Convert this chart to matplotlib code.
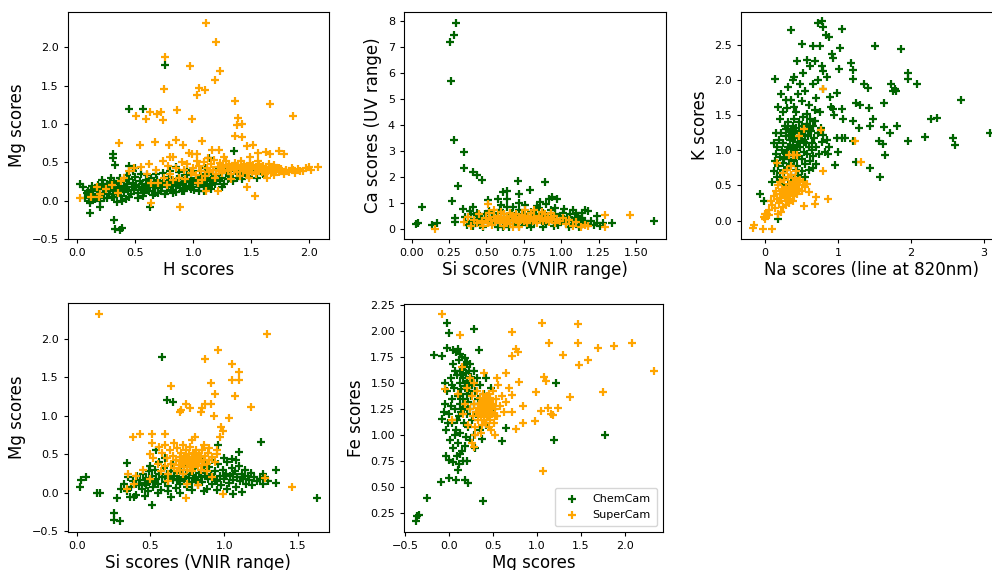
import numpy as np
import matplotlib
matplotlib.use("Agg")
import matplotlib.pyplot as plt

# colours for the two instruments
CC_COLOR = "darkgreen"
SC_COLOR = "orange"

# ---- panel 1: H scores vs Mg scores ----
h_mg_chemcam = [
    (0.76, 1.77), (0.45, 1.20), (0.57, 1.20), (1.35, 0.65), (0.31, 0.61), (0.31, 0.55),
    (0.33, 0.46), (0.02, 0.22), (1.14, 0.56), (0.11, -0.16), (0.32, -0.25), (0.33, -0.37),
    (0.39, -0.36), (0.37, -0.38), (0.63, -0.09), (1.09, 0.12), (0.11, -0.03), (0.20, -0.08),
    (0.08, 0.10), (0.10, 0.05), (0.12, 0.14), (0.14, 0.08), (0.15, 0.02), (0.17, 0.12),
    (0.18, 0.20), (0.19, 0.06), (0.20, 0.15), (0.21, 0.27), (0.22, 0.10), (0.23, 0.03),
    (0.24, 0.18), (0.25, 0.12), (0.26, 0.22), (0.27, 0.08), (0.28, 0.15), (0.29, 0.30),
    (0.30, 0.05), (0.30, 0.20), (0.31, 0.12), (0.32, 0.25), (0.33, 0.17), (0.34, -0.02),
    (0.34, 0.09), (0.35, 0.21), (0.36, 0.14), (0.37, 0.30), (0.38, 0.06), (0.38, 0.19),
    (0.40, 0.11), (0.40, 0.25), (0.41, 0.17), (0.42, 0.02), (0.43, 0.21), (0.44, 0.13),
    (0.45, 0.28), (0.46, 0.09), (0.47, 0.18), (0.48, 0.23), (0.49, 0.14), (0.50, 0.31),
    (0.51, 0.20), (0.52, 0.10), (0.53, 0.17), (0.54, 0.25), (0.55, 0.14), (0.56, 0.21),
    (0.57, 0.06), (0.58, 0.18), (0.59, 0.27), (0.60, 0.15), (0.61, 0.22), (0.62, 0.12),
    (0.63, 0.19), (0.64, 0.30), (0.65, 0.17), (0.66, 0.24), (0.67, 0.10), (0.68, 0.20),
    (0.69, 0.27), (0.70, 0.16), (0.71, 0.22), (0.72, 0.13), (0.73, 0.19), (0.74, 0.26),
    (0.75, 0.21), (0.76, 0.09), (0.77, 0.24), (0.78, 0.17), (0.79, 0.31), (0.80, 0.21),
    (0.81, 0.14), (0.82, 0.26), (0.83, 0.19), (0.84, 0.23), (0.85, 0.11), (0.86, 0.28),
    (0.87, 0.20), (0.88, 0.24), (0.89, 0.16), (0.90, 0.30), (0.91, 0.22), (0.92, 0.13),
    (0.93, 0.26), (0.94, 0.19), (0.95, 0.33), (0.96, 0.24), (0.97, 0.17), (0.98, 0.28),
    (0.99, 0.21), (1.00, 0.25), (1.01, 0.14), (1.02, 0.30), (1.03, 0.22), (1.04, 0.27),
    (1.05, 0.18), (1.06, 0.32), (1.07, 0.24), (1.08, 0.29), (1.09, 0.20), (1.10, 0.34),
    (1.11, 0.26), (1.12, 0.22), (1.13, 0.30), (1.14, 0.17), (1.15, 0.27), (1.16, 0.35),
    (1.17, 0.24), (1.18, 0.30), (1.19, 0.21), (1.20, 0.28), (1.22, 0.33), (1.23, 0.25),
    (1.25, 0.30), (1.27, 0.22), (1.28, 0.36), (1.30, 0.28), (1.32, 0.32), (1.34, 0.25),
    (1.36, 0.38), (1.38, 0.30), (1.40, 0.34), (1.42, 0.28), (1.45, 0.36), (1.48, 0.32),
    (1.52, 0.38), (0.05, 0.18), (0.07, 0.03), (0.09, 0.13), (0.11, 0.00), (0.13, 0.19),
    (0.16, 0.16), (0.20, 0.00), (0.22, 0.22), (0.26, 0.03), (0.28, 0.24), (0.32, 0.05),
    (0.36, 0.24), (0.39, 0.00), (0.43, 0.33), (0.45, 0.05), (0.48, 0.38), (0.52, 0.03),
    (0.55, 0.35), (0.58, 0.10), (0.60, 0.33), (0.65, 0.07), (0.68, 0.34), (0.70, 0.10),
    (0.74, 0.36), (0.77, 0.12), (0.80, 0.38), (0.83, 0.10), (0.88, 0.37), (0.90, 0.12),
    (0.95, 0.40), (0.98, 0.15), (1.00, 0.38), (1.05, 0.12), (1.10, 0.42), (1.15, 0.15),
    (1.20, 0.40), (1.25, 0.18), (1.30, 0.42), (0.45, 0.45), (0.50, 0.43), (0.85, 0.44),
    (1.38, 0.44), (1.42, 0.40), (1.55, 0.30), (1.60, 0.35),
    (0.35, 0.16), (0.42, 0.15), (0.50, 0.18), (0.57, 0.16), (0.62, 0.20), (0.70, 0.20),
    (0.78, 0.22), (0.85, 0.20), (0.92, 0.24), (1.00, 0.22), (1.08, 0.25), (1.16, 0.28),
]
h_mg_supercam = [
    (1.11, 2.32), (1.20, 2.07), (0.76, 1.87), (0.97, 1.75), (1.23, 1.69), (1.19, 1.57),
    (0.75, 1.46), (1.05, 1.47), (1.03, 1.38), (1.10, 1.44), (1.36, 1.30), (1.66, 1.26),
    (1.86, 1.10), (0.51, 1.10), (0.59, 1.07), (0.63, 1.15), (0.69, 1.13), (0.72, 1.15),
    (0.74, 1.05), (0.86, 1.18), (0.99, 1.07), (1.39, 1.08), (1.38, 0.98), (1.42, 1.00),
    (1.36, 0.84), (1.42, 0.83), (0.36, 0.75), (0.54, 0.72), (0.67, 0.76), (0.85, 0.79),
    (0.79, 0.72), (0.91, 0.73), (1.08, 0.78), (1.46, 0.71), (1.52, 0.73), (1.63, 0.63),
    (1.66, 0.61), (1.74, 0.65), (1.78, 0.61), (1.56, 0.62), (1.49, 0.57), (1.16, 0.66),
    (1.22, 0.66), (0.96, 0.62), (0.99, 0.61), (1.03, 0.61), (0.80, 0.57), (0.83, 0.57),
    (0.74, 0.51), (0.62, 0.47), (0.49, 0.42), (1.46, 0.18), (1.53, 0.06), (0.89, -0.08),
    (0.64, -0.03), (0.35, 0.10), (0.02, 0.03), (0.17, 0.17), (0.19, 0.05), (1.11, 0.12),
    (1.21, 0.13), (1.04, 0.23), (0.77, 0.20), (0.70, 0.23), (0.64, 0.23), (2.00, 0.44),
    (2.08, 0.44), (1.92, 0.38), (1.86, 0.40), (1.80, 0.38), (1.74, 0.42),
    (0.80, 0.35), (0.85, 0.42), (0.88, 0.30), (0.92, 0.40), (0.95, 0.47), (0.98, 0.36),
    (1.00, 0.43), (1.02, 0.33), (1.05, 0.45), (1.07, 0.38), (1.09, 0.50), (1.10, 0.32),
    (1.12, 0.42), (1.14, 0.37), (1.15, 0.47), (1.17, 0.40), (1.18, 0.53), (1.20, 0.35),
    (1.21, 0.44), (1.22, 0.39), (1.23, 0.49), (1.24, 0.42), (1.25, 0.36), (1.26, 0.46),
    (1.27, 0.40), (1.28, 0.51), (1.29, 0.44), (1.30, 0.38), (1.31, 0.47), (1.32, 0.42),
    (1.33, 0.35), (1.34, 0.45), (1.35, 0.40), (1.36, 0.49), (1.37, 0.43), (1.38, 0.37),
    (1.39, 0.46), (1.40, 0.41), (1.41, 0.52), (1.42, 0.44), (1.43, 0.38), (1.44, 0.47),
    (1.45, 0.42), (1.46, 0.36), (1.47, 0.45), (1.48, 0.40), (1.49, 0.49), (1.50, 0.43),
    (1.51, 0.37), (1.52, 0.46), (1.53, 0.41), (1.54, 0.35), (1.55, 0.44), (1.56, 0.39),
    (1.57, 0.48), (1.58, 0.42), (1.59, 0.37), (1.60, 0.45), (1.61, 0.40), (1.62, 0.34),
    (1.63, 0.44), (1.64, 0.39), (1.65, 0.47), (1.66, 0.41), (1.67, 0.36), (1.68, 0.44),
    (1.69, 0.40), (1.70, 0.46), (1.71, 0.38), (1.72, 0.43), (1.74, 0.37), (1.76, 0.41),
    (1.78, 0.35), (1.80, 0.40), (1.83, 0.37), (1.85, 0.42), (1.88, 0.36), (1.90, 0.41),
    (1.95, 0.38), (1.97, 0.43), (2.02, 0.40), (0.75, 0.30), (0.78, 0.45), (0.83, 0.27),
    (0.90, 0.50), (0.93, 0.28), (1.03, 0.52), (1.08, 0.27), (1.13, 0.55), (1.19, 0.30),
    (1.27, 0.57), (1.33, 0.28), (1.40, 0.32), (1.48, 0.30), (1.56, 0.52), (1.64, 0.30),
    (1.70, 0.33), (0.68, 0.40), (0.60, 0.35), (0.55, 0.44), (0.45, 0.38), (0.40, 0.30),
    (0.38, 0.25), (0.30, 0.20), (0.25, 0.15), (0.20, 0.08), (0.12, 0.05),
]

# ---- panel 2: Si scores (VNIR) vs Ca scores (UV) ----
si_ca_chemcam = [
    (0.296, 7.90), (0.283, 7.43), (0.26, 7.16), (0.265, 5.66), (0.283, 3.42), (0.35, 2.95),
    (0.35, 2.34), (0.41, 2.16), (0.44, 2.08), (0.47, 1.87), (0.31, 1.64), (0.27, 1.05),
    (0.07, 0.82), (0.04, 0.20), (0.03, 0.17), (0.14, 0.13), (0.17, 0.23), (0.71, 1.84),
    (0.89, 1.81), (0.72, 1.35), (0.79, 1.48), (0.61, 1.42), (0.64, 1.45), (0.64, 1.15),
    (0.58, 1.14), (0.51, 1.10), (0.92, 1.15), (0.97, 1.16), (0.94, 1.20), (0.72, 1.00),
    (0.86, 1.01), (1.62, 0.29), (1.34, 0.23), (1.16, 0.72), (1.18, 0.68), (1.10, 0.59),
    (1.24, 0.49), (0.345, 0.74), (0.39, 0.69), (0.41, 0.82), (0.29, 0.42), (0.29, 0.27),
    (0.61, 0.05),
    (0.36, 0.45), (0.38, 0.30), (0.40, 0.20), (0.40, 0.55), (0.42, 0.38), (0.43, 0.25),
    (0.44, 0.48), (0.45, 0.32), (0.46, 0.15), (0.47, 0.42), (0.48, 0.28), (0.49, 0.55),
    (0.50, 0.35), (0.51, 0.20), (0.52, 0.45), (0.53, 0.30), (0.54, 0.62), (0.55, 0.38),
    (0.56, 0.22), (0.57, 0.48), (0.58, 0.33), (0.59, 0.72), (0.60, 0.40), (0.61, 0.25),
    (0.62, 0.55), (0.63, 0.35), (0.64, 0.82), (0.65, 0.45), (0.66, 0.28), (0.67, 0.60),
    (0.68, 0.38), (0.69, 0.18), (0.70, 0.50), (0.71, 0.32), (0.72, 0.70), (0.73, 0.42),
    (0.74, 0.25), (0.75, 0.58), (0.76, 0.36), (0.77, 0.15), (0.78, 0.48), (0.79, 0.30),
    (0.80, 0.65), (0.81, 0.40), (0.82, 0.22), (0.83, 0.55), (0.84, 0.35), (0.85, 0.78),
    (0.86, 0.45), (0.87, 0.28), (0.88, 0.60), (0.89, 0.38), (0.90, 0.18), (0.91, 0.50),
    (0.92, 0.32), (0.93, 0.72), (0.94, 0.42), (0.95, 0.25), (0.96, 0.55), (0.97, 0.35),
    (0.98, 0.15), (0.99, 0.48), (1.00, 0.30), (1.01, 0.62), (1.02, 0.38), (1.03, 0.20),
    (1.04, 0.45), (1.05, 0.28), (1.06, 0.55), (1.07, 0.35), (1.08, 0.18), (1.09, 0.42),
    (1.10, 0.25), (1.11, 0.50), (1.12, 0.32), (1.13, 0.15), (1.14, 0.40), (1.15, 0.22),
    (1.16, 0.30), (1.18, 0.18), (1.20, 0.28), (1.22, 0.15), (1.24, 0.22), (1.26, 0.12),
    (1.28, 0.20), (0.58, 0.08), (0.65, 0.05), (0.72, 0.10), (0.80, 0.08), (0.88, 0.06),
    (0.95, 0.10), (1.05, 0.08), (1.12, 0.05), (0.44, 0.60), (0.52, 0.68), (0.60, 0.90),
    (0.68, 0.85), (0.76, 0.92), (0.84, 0.88), (0.90, 0.95), (0.96, 0.80), (1.02, 0.75),
    (1.08, 0.70), (1.14, 0.62), (0.37, 0.15), (0.41, 0.10), (0.48, 0.05),
]
si_ca_supercam = [
    (1.46, 0.52), (1.29, 0.52), (1.29, 0.08), (0.16, -0.02), (0.51, 0.95),
    (0.35, 0.25), (0.38, 0.45), (0.40, 0.12), (0.42, 0.35), (0.44, 0.20), (0.45, 0.55),
    (0.47, 0.30), (0.48, 0.10), (0.50, 0.40), (0.51, 0.22), (0.52, 0.60), (0.53, 0.35),
    (0.54, 0.15), (0.55, 0.45), (0.56, 0.28), (0.57, 0.38), (0.58, 0.50), (0.59, 0.22),
    (0.60, 0.42), (0.61, 0.32), (0.62, 0.55), (0.63, 0.25), (0.64, 0.45), (0.65, 0.35),
    (0.66, 0.18), (0.67, 0.48), (0.68, 0.30), (0.69, 0.40), (0.70, 0.58), (0.71, 0.25),
    (0.72, 0.45), (0.73, 0.35), (0.74, 0.52), (0.75, 0.28), (0.76, 0.42), (0.77, 0.20),
    (0.78, 0.48), (0.79, 0.35), (0.80, 0.60), (0.81, 0.30), (0.82, 0.45), (0.83, 0.38),
    (0.84, 0.22), (0.85, 0.50), (0.86, 0.32), (0.87, 0.42), (0.88, 0.28), (0.89, 0.55),
    (0.90, 0.35), (0.91, 0.45), (0.92, 0.25), (0.93, 0.40), (0.94, 0.32), (0.95, 0.50),
    (0.96, 0.20), (0.97, 0.38), (0.99, 0.28), (1.01, 0.42), (1.03, 0.18), (1.05, 0.32),
    (1.08, 0.12), (1.10, 0.25), (1.13, 0.08), (1.16, 0.15), (1.18, 0.10), (0.62, 0.12),
    (0.68, 0.08), (0.72, 0.05), (0.76, 0.70), (0.82, 0.72), (0.87, 0.65), (0.93, 0.62),
    (0.60, 0.65), (0.66, 0.62), (0.55, 0.70), (0.74, 0.38), (0.78, 0.32), (0.80, 0.42),
    (0.70, 0.35), (0.76, 0.50),
]

# ---- panel 3: Na scores (820 nm) vs K scores ----
na_k_chemcam = [
    (0.785, 2.84), (0.73, 2.81), (0.795, 2.76), (0.36, 2.71), (1.05, 2.73), (0.51, 2.52),
    (0.65, 2.48), (0.75, 2.48), (0.87, 2.62), (0.84, 2.64), (1.50, 2.49), (1.86, 2.44),
    (1.03, 2.46), (0.44, 2.27), (0.58, 2.29), (0.68, 2.27), (0.92, 2.37), (0.93, 2.31),
    (1.18, 2.24), (1.20, 2.14), (1.20, 2.02), (1.01, 2.16), (0.14, 2.01), (0.40, 2.05),
    (0.79, 2.13), (1.35, 1.94), (1.41, 1.89), (1.72, 1.94), (1.96, 2.10), (1.96, 2.01),
    (2.08, 1.95), (1.75, 1.85), (1.80, 1.84), (1.78, 1.88), (2.69, 1.71), (2.28, 1.45),
    (2.36, 1.46), (3.08, 1.24), (2.19, 1.19), (2.57, 1.17), (2.61, 1.08), (1.96, 1.14),
    (1.44, 0.75), (1.58, 0.62), (1.24, 0.83), (0.96, 0.79), (1.65, 0.93), (1.63, 1.67),
    (1.81, 1.34), (1.71, 1.24), (1.44, 1.35), (1.21, 1.42), (1.21, 1.13), (1.56, 1.13),
    (1.62, 1.09), (1.63, 1.33), (1.48, 1.45), (1.05, 1.18), (0.98, 1.18), (1.09, 1.17),
    (1.05, 1.59), (0.93, 1.59), (1.24, 1.67), (1.30, 1.65), (1.42, 1.60), (0.98, 1.82),
    (0.89, 1.76), (1.29, 1.32), (1.07, 1.44), (0.86, 0.95), (1.00, 0.97), (-0.07, 0.38),
    (-0.01, 0.28), (0.18, 0.02),
    (0.10, 0.55), (0.12, 0.70), (0.13, 0.85), (0.15, 0.95), (0.16, 0.62), (0.17, 1.05),
    (0.18, 0.78), (0.19, 1.15), (0.20, 0.90), (0.21, 0.68), (0.22, 1.25), (0.23, 1.00),
    (0.24, 0.82), (0.25, 1.10), (0.26, 0.60), (0.27, 1.35), (0.28, 0.95), (0.29, 1.20),
    (0.30, 0.75), (0.31, 1.05), (0.32, 1.40), (0.33, 0.88), (0.34, 1.15), (0.35, 0.65),
    (0.36, 1.28), (0.37, 0.98), (0.38, 1.08), (0.39, 1.45), (0.40, 0.85), (0.41, 1.18),
    (0.42, 1.00), (0.43, 1.32), (0.44, 0.78), (0.45, 1.12), (0.46, 0.92), (0.47, 1.40),
    (0.48, 1.05), (0.49, 1.25), (0.50, 0.88), (0.51, 1.15), (0.52, 1.48), (0.53, 0.98),
    (0.54, 1.30), (0.55, 0.80), (0.56, 1.10), (0.57, 1.38), (0.58, 0.95), (0.59, 1.20),
    (0.60, 1.05), (0.61, 1.45), (0.62, 0.85), (0.63, 1.28), (0.64, 1.10), (0.65, 1.35),
    (0.66, 0.92), (0.67, 1.18), (0.68, 1.42), (0.70, 1.05), (0.72, 1.25), (0.74, 0.95),
    (0.76, 1.32), (0.78, 1.12), (0.80, 1.22), (0.82, 0.98), (0.85, 1.15), (0.88, 1.05),
    (0.20, 1.45), (0.25, 1.55), (0.30, 1.60), (0.35, 1.72), (0.40, 1.62), (0.45, 1.80),
    (0.50, 1.70), (0.55, 1.85), (0.60, 1.65), (0.65, 1.95), (0.70, 1.75), (0.75, 1.55),
    (0.80, 1.88), (0.85, 2.05), (0.90, 1.62), (0.95, 1.50), (0.18, 1.62), (0.22, 1.80),
    (0.28, 1.72), (0.32, 1.90), (0.38, 2.00), (0.42, 1.55), (0.48, 1.95), (0.52, 2.10),
    (0.58, 1.52), (0.62, 2.20), (0.68, 1.58), (0.72, 2.00), (0.78, 2.20), (0.15, 1.25),
    (0.12, 1.10), (0.25, 0.50), (0.30, 0.45), (0.35, 0.55), (0.40, 0.60), (0.45, 0.65),
    (0.50, 0.70), (0.55, 0.62), (0.60, 0.72), (0.65, 0.75), (0.70, 0.80), (0.28, 1.30),
    (0.33, 1.22), (0.38, 1.35), (0.43, 0.90), (0.48, 1.20), (0.53, 1.12), (0.58, 1.35),
    (0.32, 0.92), (0.36, 0.80), (0.42, 0.72), (0.27, 0.72), (0.22, 0.58),
    (0.26, 0.88), (0.31, 1.30), (0.35, 1.02), (0.40, 1.25), (0.44, 1.05), (0.50, 1.35),
    (0.55, 1.22), (0.60, 1.28), (0.64, 1.00), (0.46, 1.28), (0.37, 1.18), (0.30, 0.98),
]
na_k_supercam = [
    (0.79, 1.88), (1.23, 1.14), (1.31, 0.84), (0.79, 0.70), (0.86, 0.31), (0.70, 0.34),
    (0.53, 0.21), (0.68, 0.23), (-0.15, -0.06), (-0.17, -0.10), (-0.03, -0.12), (0.10, -0.12),
    (0.77, 1.29), (0.53, 1.31), (0.47, 1.21), (0.44, 0.94), (0.40, 0.94), (0.17, 0.82),
    (0.00, 0.10),
    (0.05, 0.15), (0.08, 0.28), (0.10, 0.22), (0.12, 0.35), (0.14, 0.18), (0.15, 0.42),
    (0.17, 0.30), (0.18, 0.50), (0.19, 0.25), (0.20, 0.38), (0.21, 0.55), (0.22, 0.32),
    (0.23, 0.45), (0.24, 0.20), (0.25, 0.40), (0.26, 0.58), (0.27, 0.35), (0.28, 0.48),
    (0.29, 0.28), (0.30, 0.42), (0.31, 0.62), (0.32, 0.38), (0.33, 0.52), (0.34, 0.30),
    (0.35, 0.45), (0.36, 0.65), (0.37, 0.40), (0.38, 0.55), (0.39, 0.35), (0.40, 0.48),
    (0.41, 0.60), (0.42, 0.42), (0.43, 0.52), (0.44, 0.38), (0.45, 0.50), (0.47, 0.45),
    (0.48, 0.58), (0.50, 0.42), (0.52, 0.55), (0.55, 0.48), (0.58, 0.52), (0.60, 0.40),
    (0.28, 0.22), (0.33, 0.25), (0.38, 0.28), (0.22, 0.12), (0.18, 0.10), (0.02, 0.10),
    (-0.02, 0.05), (0.30, 0.72), (0.35, 0.78), (0.25, 0.68), (0.33, 0.93), (0.38, 0.93),
    (0.42, 0.70), (0.00, 0.02), (0.06, 0.08),
]

# ---- panel 4: Si scores (VNIR) vs Mg scores ----
si_mg_chemcam = [
    (0.58, 1.76), (0.61, 1.21), (0.65, 1.18), (1.25, 0.66), (1.10, 0.53), (0.96, 0.62),
    (0.54, 0.56), (0.34, 0.39), (0.02, 0.08), (0.03, 0.17), (0.06, 0.20), (0.14, 0.00),
    (0.16, 0.00), (0.25, -0.26), (0.25, -0.36), (0.29, -0.37), (0.27, -0.07), (0.51, -0.16),
    (0.64, -0.05), (1.63, -0.07), (1.35, 0.30), (1.35, 0.13), (1.26, 0.25), (1.06, -0.01),
    (1.12, 0.01),
    (0.30, 0.05), (0.32, 0.12), (0.34, 0.02), (0.35, 0.20), (0.37, 0.08), (0.38, 0.15),
    (0.40, -0.03), (0.41, 0.22), (0.42, 0.10), (0.43, 0.17), (0.44, 0.05), (0.45, 0.25),
    (0.46, 0.13), (0.47, 0.19), (0.48, 0.02), (0.49, 0.28), (0.50, 0.15), (0.51, 0.22),
    (0.52, 0.08), (0.53, 0.30), (0.54, 0.18), (0.55, 0.12), (0.56, 0.25), (0.57, 0.04),
    (0.58, 0.20), (0.59, 0.32), (0.60, 0.14), (0.61, 0.24), (0.62, 0.09), (0.63, 0.19),
    (0.64, 0.28), (0.65, 0.16), (0.66, 0.22), (0.67, 0.06), (0.68, 0.26), (0.69, 0.18),
    (0.70, 0.12), (0.71, 0.30), (0.72, 0.21), (0.73, 0.15), (0.74, 0.25), (0.75, 0.08),
    (0.76, 0.19), (0.77, 0.28), (0.78, 0.14), (0.79, 0.23), (0.80, 0.32), (0.81, 0.17),
    (0.82, 0.10), (0.83, 0.26), (0.84, 0.20), (0.85, 0.14), (0.86, 0.29), (0.87, 0.22),
    (0.88, 0.05), (0.89, 0.18), (0.90, 0.34), (0.91, 0.25), (0.92, 0.12), (0.93, 0.20),
    (0.94, 0.28), (0.95, 0.15), (0.96, 0.38), (0.97, 0.22), (0.98, 0.10), (0.99, 0.30),
    (1.00, 0.18), (1.01, 0.25), (1.02, 0.40), (1.03, 0.13), (1.04, 0.22), (1.05, 0.32),
    (1.06, 0.17), (1.07, 0.28), (1.08, 0.08), (1.09, 0.20), (1.10, 0.35), (1.11, 0.15),
    (1.12, 0.25), (1.13, 0.18), (1.14, 0.30), (1.15, 0.12), (1.16, 0.22), (1.17, 0.16),
    (1.18, 0.26), (1.19, 0.10), (1.20, 0.20), (1.22, 0.15), (1.24, 0.18), (1.26, 0.12),
    (1.28, 0.20), (1.30, 0.15), (0.36, -0.05), (0.39, -0.06), (0.46, -0.04), (0.55, 0.00),
    (0.62, 0.02), (0.70, 0.00), (0.78, 0.03), (0.86, 0.02), (0.95, 0.04), (1.02, 0.05),
    (0.50, 0.35), (0.56, 0.40), (0.65, 0.38), (0.75, 0.36), (0.85, 0.40), (0.92, 0.42),
    (1.00, 0.45), (1.05, 0.44), (1.08, 0.42), (0.60, 0.45),
    (0.40, 0.12), (0.47, 0.10), (0.53, 0.14), (0.60, 0.20), (0.68, 0.16), (0.74, 0.20),
    (0.80, 0.18), (0.88, 0.22), (0.94, 0.16), (1.00, 0.22), (1.06, 0.24), (1.12, 0.20),
]
si_mg_supercam = [
    (0.15, 2.32), (1.29, 2.07), (0.96, 1.86), (0.87, 1.74), (1.05, 1.67), (1.10, 1.57),
    (1.10, 1.47), (1.05, 1.47), (0.91, 1.43), (0.94, 1.29), (1.07, 1.26), (0.64, 1.39),
    (0.74, 1.15), (0.77, 1.10), (0.71, 1.08), (0.70, 1.05), (0.85, 1.10), (0.87, 1.16),
    (0.91, 1.15), (0.84, 1.05), (0.93, 1.00), (1.03, 0.97), (1.18, 1.12), (0.98, 0.85),
    (0.99, 0.80), (0.97, 0.73), (0.38, 0.73), (0.43, 0.77), (0.51, 0.76), (0.51, 0.65),
    (0.60, 0.76), (0.60, 0.62), (0.80, 0.73), (1.28, 0.19), (1.46, 0.07), (0.99, -0.02),
    (0.74, -0.07), (0.34, 0.05), (0.39, 0.11),
    (0.35, 0.25), (0.40, 0.22), (0.45, 0.30), (0.50, 0.18), (0.52, 0.45), (0.55, 0.38),
    (0.57, 0.28), (0.58, 0.52), (0.60, 0.35), (0.61, 0.45), (0.62, 0.25), (0.63, 0.55),
    (0.64, 0.38), (0.65, 0.48), (0.66, 0.32), (0.67, 0.42), (0.68, 0.58), (0.69, 0.36),
    (0.70, 0.46), (0.70, 0.30), (0.71, 0.52), (0.72, 0.40), (0.72, 0.62), (0.73, 0.34),
    (0.73, 0.48), (0.74, 0.42), (0.74, 0.56), (0.75, 0.38), (0.75, 0.30), (0.76, 0.50),
    (0.76, 0.44), (0.77, 0.36), (0.77, 0.60), (0.78, 0.46), (0.78, 0.40), (0.79, 0.33),
    (0.79, 0.52), (0.80, 0.44), (0.80, 0.38), (0.81, 0.56), (0.81, 0.48), (0.82, 0.35),
    (0.82, 0.42), (0.83, 0.52), (0.83, 0.40), (0.84, 0.46), (0.85, 0.36), (0.85, 0.55),
    (0.86, 0.43), (0.87, 0.48), (0.88, 0.38), (0.89, 0.52), (0.90, 0.42), (0.92, 0.46),
    (0.94, 0.40), (0.95, 0.50), (0.68, 0.28), (0.72, 0.25), (0.78, 0.28), (0.84, 0.30),
    (0.88, 0.28), (0.62, 0.15), (0.75, 0.12), (0.82, 0.10), (0.92, 0.20), (0.56, 0.60),
    (0.66, 0.65), (0.78, 0.68), (0.86, 0.62), (0.90, 0.58), (0.95, 0.55), (0.50, 0.50),
    (0.71, 0.41), (0.74, 0.47), (0.77, 0.42), (0.80, 0.50), (0.83, 0.46), (0.76, 0.37),
]

# ---- panel 5: Mg scores vs Fe scores ----
mg_fe_chemcam = [
    (-0.02, 2.08), (0.00, 1.98), (0.28, 2.02), (0.34, 1.82), (-0.17, 1.77), (-0.08, 1.76),
    (-0.02, 1.84), (-0.37, 0.18), (-0.36, 0.22), (-0.34, 0.23), (-0.25, 0.40), (-0.09, 0.55),
    (0.00, 0.59), (0.08, 0.57), (0.18, 0.57), (0.22, 0.54), (0.39, 0.37), (1.21, 1.50),
    (1.77, 1.00), (1.19, 0.95), (0.65, 1.07), (0.60, 0.94), (0.38, 0.96), (0.30, 0.88),
    (-0.03, 0.80), (0.00, 0.76), (0.05, 0.74), (0.11, 0.72), (0.16, 0.75), (0.20, 0.75),
    (0.10, 0.67), (-0.08, 1.16), (-0.06, 1.22),
    (-0.05, 1.50), (-0.04, 1.30), (-0.03, 1.05), (-0.02, 1.42), (0.00, 1.20), (0.01, 0.95),
    (0.02, 1.55), (0.03, 1.35), (0.04, 1.12), (0.05, 1.68), (0.05, 0.88), (0.06, 1.45),
    (0.07, 1.25), (0.08, 1.80), (0.08, 1.05), (0.09, 1.58), (0.10, 1.38), (0.10, 0.92),
    (0.11, 1.72), (0.11, 1.18), (0.12, 1.50), (0.12, 1.30), (0.13, 1.62), (0.13, 1.02),
    (0.14, 1.44), (0.14, 1.22), (0.15, 1.75), (0.15, 0.85), (0.16, 1.55), (0.16, 1.35),
    (0.17, 1.12), (0.17, 1.66), (0.18, 1.47), (0.18, 1.27), (0.19, 0.98), (0.19, 1.60),
    (0.20, 1.40), (0.20, 1.20), (0.21, 1.70), (0.21, 1.52), (0.22, 1.32), (0.22, 1.08),
    (0.23, 1.62), (0.23, 1.45), (0.24, 1.25), (0.25, 1.56), (0.25, 1.38), (0.26, 1.15),
    (0.27, 1.50), (0.28, 1.30), (0.29, 1.62), (0.30, 1.42), (0.31, 1.20), (0.32, 1.55),
    (0.33, 1.35), (0.35, 1.48), (0.37, 1.28), (0.40, 1.40), (0.42, 1.55), (0.45, 1.32),
    (0.48, 1.45), (0.50, 1.25), (0.05, 1.82), (0.10, 1.83), (0.12, 1.78), (0.18, 1.74),
    (0.09, 0.80), (0.13, 0.82), (0.18, 0.90), (0.24, 0.95), (0.28, 1.00), (0.35, 1.05),
    (0.42, 1.10), (-0.01, 1.12), (0.02, 1.28),
    (0.04, 1.48), (0.07, 1.62), (0.09, 1.15), (0.12, 1.40), (0.14, 1.58), (0.16, 1.25),
    (0.18, 1.65), (0.20, 1.50), (0.22, 1.42), (0.24, 1.68), (0.26, 1.48), (0.07, 1.00),
]
mg_fe_supercam = [
    (-0.08, 2.16), (0.12, 1.96), (1.06, 2.08), (1.47, 2.07), (0.72, 1.99), (1.14, 1.89),
    (1.47, 1.89), (0.76, 1.83), (0.78, 1.80), (0.72, 1.76), (1.30, 1.77), (1.48, 1.67),
    (1.58, 1.72), (1.69, 1.84), (1.87, 1.86), (2.08, 1.89), (2.33, 1.62), (1.08, 1.56),
    (1.10, 1.52), (0.80, 1.51), (0.65, 1.60), (0.99, 1.41), (1.38, 1.37), (1.75, 1.41),
    (1.24, 1.26), (1.13, 1.26), (1.16, 1.20), (1.05, 1.23), (1.18, 1.19), (0.72, 1.39),
    (0.84, 1.28), (0.72, 1.22), (0.76, 1.06), (0.84, 1.12), (0.98, 1.14), (1.07, 0.66),
    (0.40, 1.60), (0.26, 0.92), (0.29, 0.89), (-0.04, 1.44), (0.04, 1.15),
    (0.15, 1.65), (0.18, 1.30), (0.20, 1.45), (0.22, 1.10), (0.24, 1.25), (0.26, 1.38),
    (0.27, 1.18), (0.28, 1.50), (0.29, 1.30), (0.30, 1.08), (0.31, 1.22), (0.32, 1.42),
    (0.33, 1.15), (0.34, 1.30), (0.35, 1.24), (0.35, 1.36), (0.36, 1.18), (0.37, 1.28),
    (0.37, 1.10), (0.38, 1.33), (0.38, 1.22), (0.39, 1.40), (0.40, 1.15), (0.40, 1.27),
    (0.41, 1.34), (0.41, 1.20), (0.42, 1.25), (0.42, 1.12), (0.43, 1.30), (0.43, 1.38),
    (0.44, 1.18), (0.44, 1.24), (0.45, 1.32), (0.45, 1.08), (0.46, 1.22), (0.46, 1.28),
    (0.47, 1.36), (0.47, 1.15), (0.48, 1.25), (0.49, 1.20), (0.50, 1.30), (0.50, 1.42),
    (0.51, 1.12), (0.52, 1.25), (0.53, 1.35), (0.55, 1.18), (0.56, 1.48), (0.58, 1.28),
    (0.60, 1.38), (0.62, 1.22), (0.65, 1.32), (0.68, 1.45), (0.55, 1.55), (0.48, 1.05),
    (0.36, 1.02), (0.30, 1.00), (0.52, 1.00), (0.24, 1.55), (0.10, 1.40), (0.16, 1.20),
    (0.33, 1.26), (0.36, 1.31), (0.39, 1.20), (0.41, 1.29), (0.44, 1.34), (0.47, 1.22),
    (0.39, 1.26), (0.43, 1.17), (0.49, 1.28), (0.34, 1.20), (0.46, 1.40), (0.52, 1.18),
]

panels = [
    (h_mg_chemcam, h_mg_supercam, "H scores", "Mg scores", (-0.08, 2.17), (-0.5, 2.46)),
    (si_ca_chemcam, si_ca_supercam, "Si scores (VNIR range)", "Ca scores (UV range)", (-0.05, 1.70), (-0.39, 8.33)),
    (na_k_chemcam, na_k_supercam, "Na scores (line at 820nm)", "K scores", (-0.33, 3.26), (-0.26, 2.97)),
    (si_mg_chemcam, si_mg_supercam, "Si scores (VNIR range)", "Mg scores", (-0.06, 1.71), (-0.51, 2.47)),
    (mg_fe_chemcam, mg_fe_supercam, "Mg scores", "Fe scores", (-0.51, 2.43), (0.07, 2.26)),
]

# axes rectangles in figure fractions (figure is a crop of a larger one)
rects = [
    [0.0685, 0.581, 0.263, 0.398],
    [0.4073, 0.581, 0.264, 0.398],
    [0.747, 0.581, 0.264, 0.398],
    [0.0685, 0.0667, 0.263, 0.402],
    [0.4073, 0.0667, 0.261, 0.40],
]

fig = plt.figure(figsize=(9.92, 5.70), dpi=100)

for (cc, sc, xl, yl, xlim, ylim), rect in zip(panels, rects):
    ax = fig.add_axes(rect)
    cc = np.array(cc)
    sc = np.array(sc)
    ax.scatter(cc[:, 0], cc[:, 1], marker="+", s=28, linewidths=1.6, color=CC_COLOR, label="ChemCam")
    ax.scatter(sc[:, 0], sc[:, 1], marker="+", s=28, linewidths=1.6, color=SC_COLOR, label="SuperCam")
    ax.set_xlim(*xlim)
    ax.set_ylim(*ylim)
    ax.set_xlabel(xl, fontsize=12, labelpad=2)
    ax.set_ylabel(yl, fontsize=12, labelpad=4)
    ax.tick_params(labelsize=8, length=3)
    last_ax = ax

last_ax.legend(loc="lower right", fontsize=8, handletextpad=0.8, borderpad=0.6)

fig.savefig("out.png", dpi=100)
